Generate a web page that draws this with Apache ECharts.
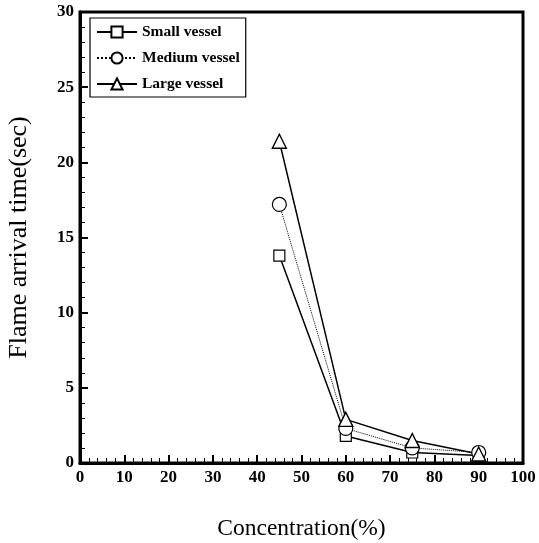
<!DOCTYPE html>
<html><head><meta charset="utf-8">
<script src="https://cdn.jsdelivr.net/npm/echarts@6/dist/echarts.min.js"></script>
<style>html,body{margin:0;padding:0;background:#fff}#c{width:539px;height:543px}</style>
</head><body><div id="c"></div>
<script>
const concentrations = [45, 60, 75, 90];
const smallVessel = [13.8, 1.8, 0.7, 0.5];
const mediumVessel = [17.2, 2.3, 1.0, 0.7];
const largeVessel = [21.4, 2.9, 1.5, 0.6];
const seriesNames = ['Small vessel', 'Medium vessel', 'Large vessel'];

const font = 'Liberation Serif, Times New Roman, serif';
const chart = echarts.init(document.getElementById('c'));
function pts(v){ return concentrations.map((x,i)=>[x, v[i]]); }
chart.setOption({
  animation: false,
  grid: { left: 80, right: 16, top: 12, bottom: 80, containLabel: false, outerBoundsMode: 'none' },
  legend: {
    orient: 'vertical', left: 90, top: 18,
    data: seriesNames,
    borderColor: '#000', borderWidth: 1.2, padding: [6, 6, 5, 6],
    itemGap: 10, itemWidth: 40, itemHeight: 14,
    textStyle: { fontFamily: font, fontSize: 15.5, color: '#000', fontWeight: 'bold' }
  },
  xAxis: {
    type: 'value', min: 0, max: 100, interval: 10,
    name: 'Concentration(%)', nameLocation: 'middle', nameGap: 54,
    nameTextStyle: { fontFamily: font, fontSize: 23.5, color: '#000' },
    axisLine: { show: true, onZero: false, lineStyle: { color: '#000', width: 3 } },
    axisTick: { show: true, inside: true, length: 8, lineStyle: { color: '#000', width: 2 } },
    minorTick: { show: true, splitNumber: 5, length: 5, lineStyle: { color: '#000', width: 1 } },
    axisLabel: { fontFamily: font, fontSize: 17, color: '#000', margin: 6, fontWeight: 'bold' },
    splitLine: { show: false }
  },
  yAxis: {
    type: 'value', min: 0, max: 30, interval: 5,
    name: 'Flame arrival time(sec)', nameLocation: 'middle', nameGap: 48,
    nameTextStyle: { fontFamily: font, fontSize: 26, color: '#000' },
    axisLine: { show: true, onZero: false, lineStyle: { color: '#000', width: 3 } },
    axisTick: { show: true, inside: true, length: 8, lineStyle: { color: '#000', width: 2 } },
    minorTick: { show: true, splitNumber: 5, length: 5, lineStyle: { color: '#000', width: 1 } },
    axisLabel: { fontFamily: font, fontSize: 17, color: '#000', margin: 6, fontWeight: 'bold' },
    splitLine: { show: false }
  },
  graphic: [{
    type: 'rect', shape: { x: 80, y: 12, width: 443, height: 451 },
    style: { fill: 'none', stroke: '#000', lineWidth: 3 }, silent: true, z: 0
  }],
  series: [
    { name: seriesNames[0], type: 'line', data: pts(smallVessel), symbol: 'rect', symbolSize: 11,
      itemStyle: { color: '#fff', borderColor: '#000', borderWidth: 1.2 },
      lineStyle: { color: '#000', width: 1.5 } },
    { name: seriesNames[1], type: 'line', data: pts(mediumVessel), symbol: 'circle', symbolSize: 14,
      itemStyle: { color: '#fff', borderColor: '#000', borderWidth: 1.2 },
      lineStyle: { color: '#000', width: 1, type: 'dotted' } },
    { name: seriesNames[2], type: 'line', data: pts(largeVessel), symbol: 'triangle', symbolSize: 14,
      itemStyle: { color: '#fff', borderColor: '#000', borderWidth: 1.4 },
      lineStyle: { color: '#000', width: 1.5 } }
  ]
});
</script></body></html>
